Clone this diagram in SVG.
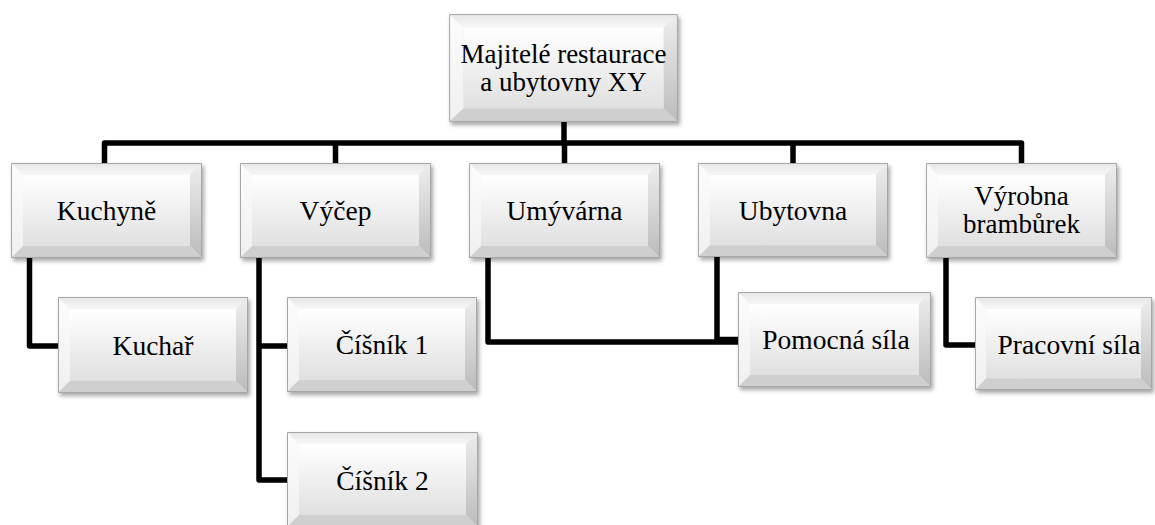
<svg xmlns="http://www.w3.org/2000/svg" xmlns:xlink="http://www.w3.org/1999/xlink" width="1155" height="525" viewBox="0 0 1155 525">
<style>
.t{font-family:"Liberation Serif","Times New Roman",serif;font-size:27.5px;fill:#000;text-anchor:middle}
.t2{font-size:27px}
.c{fill:none;stroke:#000;stroke-width:5.5;stroke-linejoin:round;stroke-linecap:butt}
.b{filter:url(#sh)}
</style>
<defs>
<linearGradient id="face" x1="0" y1="0" x2="0" y2="1">
<stop offset="0" stop-color="#ffffff"/><stop offset="1" stop-color="#e0e0e0"/>
</linearGradient>
<linearGradient id="topb" x1="0" y1="0" x2="0" y2="1">
<stop offset="0" stop-color="#e6e6e6"/><stop offset="1" stop-color="#f7f7f7"/>
</linearGradient>
<linearGradient id="rightb" x1="0" y1="0" x2="0" y2="1">
<stop offset="0" stop-color="#eeeeee"/><stop offset="1" stop-color="#bbbbbb"/>
</linearGradient>
<linearGradient id="leftb" x1="0" y1="0" x2="0" y2="1">
<stop offset="0" stop-color="#fcfcfc"/><stop offset="1" stop-color="#f0f0f0"/>
</linearGradient>
<filter id="sh" x="-5%" y="-5%" width="115%" height="120%">
<feDropShadow dx="2" dy="3" stdDeviation="2" flood-color="#000" flood-opacity="0.35"/>
</filter>
<symbol id="bevel" viewBox="0 0 190 95" preserveAspectRatio="none">
<rect x="0" y="0" width="190" height="95" fill="#e8e8e8"/>
<polygon points="0,0 190,0 178,12 12,12" fill="url(#topb)"/>
<polygon points="0,0 12,12 12,83 0,95" fill="url(#leftb)"/>
<polygon points="190,0 190,95 178,83 178,12" fill="url(#rightb)"/>
<polygon points="0,95 12,83 178,83 190,95" fill="#cfcfcf"/>
<rect x="12" y="12" width="166" height="71" fill="url(#face)"/>
<rect x="0.5" y="0.5" width="189" height="94" fill="none" stroke="#a6a6a6" stroke-width="1" vector-effect="non-scaling-stroke"/>
</symbol>
</defs>
<rect width="1155" height="525" fill="#ffffff"/>
<g id="connectors">
<path class="c" d="M564,122 V143 M104.5,163 V143 H1021.5 V163 M335.5,143 V163 M564.5,143 V163 M793,143 V163"/>
<path class="c" d="M29.5,258 V346 H58"/>
<path class="c" d="M259,257 V480 H287 M259,346 H287"/>
<path class="c" d="M488,257 V342 H738"/>
<path class="c" d="M717,257 V339.5 H738"/>
<path class="c" d="M946,257 V345 H975"/>
</g>
<g id="n-top">
<use class="b" xlink:href="#bevel" x="449" y="14" width="229" height="108"/>
<text class="t t2" x="563.5" y="63">Majitelé restaurace</text>
<text class="t t2" x="563.5" y="91">a ubytovny XY</text>
</g>
<g id="n-kuchyne">
<use class="b" xlink:href="#bevel" x="11" y="163" width="191" height="95"/>
<text class="t" x="106.5" y="220">Kuchyně</text>
</g>
<g id="n-vycep">
<use class="b" xlink:href="#bevel" x="240" y="163" width="191" height="95"/>
<text class="t" x="335.5" y="220">Výčep</text>
</g>
<g id="n-umyvarna">
<use class="b" xlink:href="#bevel" x="469" y="163" width="191" height="95"/>
<text class="t" x="564.5" y="220">Umývárna</text>
</g>
<g id="n-ubytovna">
<use class="b" xlink:href="#bevel" x="698" y="163" width="190" height="94"/>
<text class="t" x="793" y="220">Ubytovna</text>
</g>
<g id="n-vyrobna">
<use class="b" xlink:href="#bevel" x="926" y="163" width="191" height="95"/>
<text class="t t2" x="1021.5" y="205">Výrobna</text>
<text class="t t2" x="1021.5" y="233">brambůrek</text>
</g>
<g id="n-kuchar">
<use class="b" xlink:href="#bevel" x="58" y="297" width="190" height="96"/>
<text class="t" x="153" y="354.5">Kuchař</text>
</g>
<g id="n-cisnik1">
<use class="b" xlink:href="#bevel" x="287" y="297" width="190" height="95"/>
<text class="t" x="382" y="354">Číšník 1</text>
</g>
<g id="n-cisnik2">
<use class="b" xlink:href="#bevel" x="287" y="432" width="191" height="95"/>
<text class="t" x="382.5" y="489.5">Číšník 2</text>
</g>
<g id="n-pomocna">
<use class="b" xlink:href="#bevel" x="738" y="292" width="193" height="95"/>
<text class="t" x="836" y="349">Pomocná síla</text>
</g>
<g id="n-pracovni">
<use class="b" xlink:href="#bevel" x="975" y="297" width="177" height="93"/>
<text class="t" x="1069" y="354">Pracovní síla</text>
</g>
</svg>
